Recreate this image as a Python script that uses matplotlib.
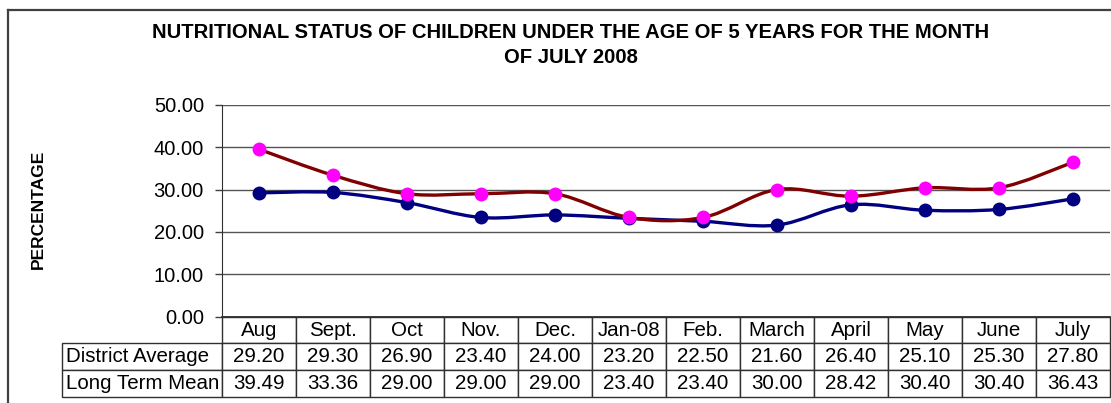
import matplotlib
matplotlib.use("Agg")
import matplotlib.pyplot as plt
import numpy as np
from matplotlib.path import Path
from matplotlib.patches import PathPatch
from matplotlib.lines import Line2D

plt.rcParams['font.family'] = ['Liberation Sans', 'DejaVu Sans']

months = ['Aug', 'Sept.', 'Oct', 'Nov.', 'Dec.', 'Jan-08', 'Feb.',
          'March', 'April', 'May', 'June', 'July']
district_avg = [29.20, 29.30, 26.90, 23.40, 24.00, 23.20, 22.50,
                21.60, 26.40, 25.10, 25.30, 27.80]
long_term_mean = [39.49, 33.36, 29.00, 29.00, 29.00, 23.40, 23.40,
                  30.00, 28.42, 30.40, 30.40, 36.43]
row_names = ['District Average', 'Long Term Mean']
y_ticks = [0, 10, 20, 30, 40, 50]

title = ('NUTRITIONAL STATUS OF CHILDREN UNDER THE AGE OF 5 YEARS FOR THE MONTH\n'
         'OF JULY 2008')


def smooth_path(xs, ys):
    # excel style smoothed line (bezier through each point)
    pts = np.column_stack([xs, ys]).astype(float)
    n = len(pts)
    verts = [pts[0]]
    codes = [Path.MOVETO]
    for i in range(n - 1):
        p0 = pts[i - 1] if i > 0 else pts[i]
        p1 = pts[i]
        p2 = pts[i + 1]
        p3 = pts[i + 2] if i + 2 < n else pts[i + 1]
        verts += [p1 + (p2 - p0) / 6.0, p2 - (p3 - p1) / 6.0, p2]
        codes += [Path.CURVE4] * 3
    return Path(verts, codes)


W, H = 1111, 403
fig = plt.figure(figsize=(W / 100, H / 100), dpi=100)
ax = fig.add_axes([222 / W, (H - 316.7) / H, 888 / W, 212 / H])

x = np.arange(len(months))

ax.add_patch(PathPatch(smooth_path(x, district_avg), fill=False,
                       edgecolor='#000080', lw=2.4, zorder=3))
ax.plot(x, district_avg, linestyle='none', marker='o', markersize=10,
        color='#000080', markeredgewidth=0, zorder=4)
ax.add_patch(PathPatch(smooth_path(x, long_term_mean), fill=False,
                       edgecolor='#800000', lw=2.4, zorder=5))
ax.plot(x, long_term_mean, linestyle='none', marker='o', markersize=10,
        color='#ff00ff', markeredgewidth=0, zorder=6)

ax.set_xlim(-0.5, len(months) - 0.5)
ax.set_ylim(0, 50)
ax.set_yticks(y_ticks)
ax.set_yticklabels(['%.2f' % v for v in y_ticks], fontsize=14.5)
ax.set_xticks([])
ax.tick_params(axis='y', direction='out', length=5, width=1, pad=8,
               color='#404040')
ax.grid(axis='y', color='#555555', lw=1)
ax.set_axisbelow(True)
for s in ['top', 'right']:
    ax.spines[s].set_visible(False)
ax.spines['left'].set_color('#303030')
ax.spines['bottom'].set_color('#303030')
ax.spines['bottom'].set_linewidth(1.3)

cell_text = [[row_names[0]] + ['%.2f' % v for v in district_avg],
             [row_names[1]] + ['%.2f' % v for v in long_term_mean]]
tbl = ax.table(cellText=cell_text, colLabels=[''] + months,
               colWidths=[160 / 888] + [74 / 888] * len(months),
               cellLoc='center', colLoc='center',
               bbox=[-160 / 888, -80 / 212, 1048 / 888, 80 / 212])
tbl.auto_set_font_size(False)
tbl.set_fontsize(14.8)
for (r, c), cell in tbl.get_celld().items():
    cell.set_edgecolor('#303030')
    cell.set_linewidth(1)
    if c == 0:
        cell.PAD = 0.025
        cell.get_text().set_horizontalalignment('left')
        if r == 0:
            cell.visible_edges = ''

fig.text(571 / W, 1 - 45 / H, title, ha='center', va='center',
         fontsize=14.6, fontweight='bold', linespacing=1.45)
fig.text(38 / W, 1 - 209 / H, 'PERCENTAGE', rotation=90, ha='center',
         va='center', fontsize=12.5, fontweight='bold')

# chart area border (cut off at right and bottom)
fig.add_artist(Line2D([8 / W, 8 / W], [0, 1 - 10 / H], color='#404040', lw=1.6))
fig.add_artist(Line2D([8 / W, 1], [1 - 10 / H, 1 - 10 / H], color='#404040', lw=1.6))

fig.savefig('out.png', dpi=100)
